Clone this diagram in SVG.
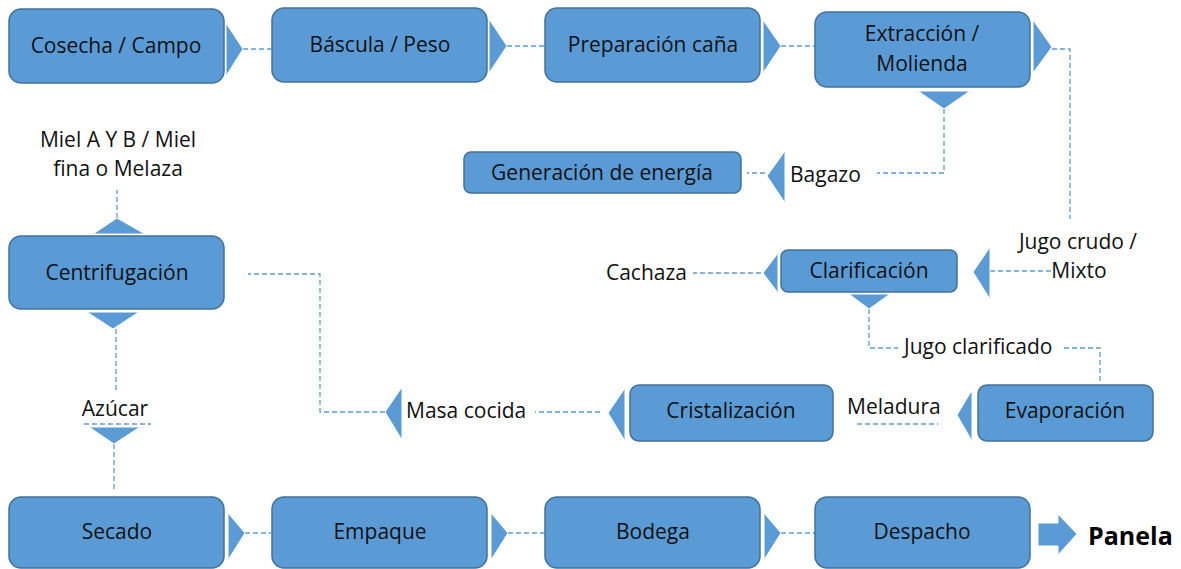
<svg xmlns="http://www.w3.org/2000/svg" width="1181" height="569" viewBox="0 0 1181 569">
<style>
.box{fill:#5b9bd5;stroke:#41719c;stroke-width:1.5}
.tri{fill:#5b9bd5;stroke:#ffffff;stroke-width:1}
.t{font-family:"Open Sans","Liberation Sans",sans-serif;font-size:21px;fill:#111111}
.c{text-anchor:middle}
.e{text-anchor:end}
.con{fill:none;stroke:#5b9bd5;stroke-width:1.3;stroke-dasharray:5 3}
.b{font-family:"Open Sans","Liberation Sans",sans-serif;font-size:25px;font-weight:bold;fill:#000}
</style>
<rect width="1181" height="569" fill="#ffffff"/>
<g id="connectors">
<path class="con" d="M243 49H271"/>
<path class="con" d="M507 46H545"/>
<path class="con" d="M781 46H815"/>
<path class="con" d="M1052 49H1070V219"/>
<path class="con" d="M944 109V173H877"/>
<path class="con" d="M765 173H747"/>
<path class="con" d="M990 271H1052"/>
<path class="con" d="M761 273H693"/>
<path class="con" d="M869 309V348H898"/>
<path class="con" d="M1064 348H1100V384"/>
<path class="con" d="M857 424H938"/>
<path class="con" d="M600 412H535"/>
<path class="con" d="M385 412H320V274H248"/>
<path class="con" d="M117 218V190"/>
<path class="con" d="M116 329V390"/>
<path class="con" d="M84 424H151"/>
<path class="con" d="M114 444V490"/>
<path class="con" d="M245 533H271"/>
<path class="con" d="M508 533H545"/>
<path class="con" d="M781 533H815"/>
</g>
<g id="cosecha">
<rect class="box" x="9" y="9" width="215" height="74" rx="12"/>
<polygon class="tri" points="226,23 243,49 226,76"/>
<text class="t c" x="116" y="53">Cosecha / Campo</text>
</g>
<g id="bascula">
<rect class="box" x="272" y="8" width="215" height="74" rx="12"/>
<polygon class="tri" points="489,19 507,46 489,73"/>
<text class="t c" x="380" y="52">Báscula / Peso</text>
</g>
<g id="preparacion">
<rect class="box" x="545" y="8" width="215" height="74" rx="12"/>
<polygon class="tri" points="763,20 781,46 763,73"/>
<text class="t c" x="653" y="52">Preparación caña</text>
</g>
<g id="extraccion">
<rect class="box" x="815" y="12" width="215" height="75" rx="12"/>
<polygon class="tri" points="1033,20 1052,47 1033,73"/>
<polygon class="tri" points="918,91 970,91 944,109"/>
<text class="t c" x="922" y="41">Extracción /</text>
<text class="t c" x="922" y="71">Molienda</text>
</g>
<g id="generacion">
<rect class="box" x="464" y="152" width="277" height="41" rx="7"/>
<text class="t c" x="602" y="180">Generación de energía</text>
</g>
<g id="bagazo">
<polygon class="tri" points="785,151 767,176 785,203"/>
<text class="t" x="790" y="182">Bagazo</text>
</g>
<g id="miel">
<text class="t c" x="118" y="147">Miel A Y B / Miel</text>
<text class="t c" x="118" y="176">fina o Melaza</text>
</g>
<g id="centrifugacion">
<rect class="box" x="9" y="236" width="215" height="73" rx="12"/>
<polygon class="tri" points="93,234 117,218 145,234"/>
<polygon class="tri" points="87,312 139,312 113,329"/>
<text class="t c" x="117" y="280">Centrifugación</text>
</g>
<g id="azucar">
<text class="t c" x="115" y="416">Azúcar</text>
<polygon class="tri" points="89,427 140,427 114,444"/>
</g>
<g id="jugocrudo">
<polygon class="tri" points="990,247 973,272 990,299"/>
<text class="t c" x="1078" y="249">Jugo crudo /</text>
<text class="t c" x="1079" y="278">Mixto</text>
</g>
<g id="clarificacion">
<rect class="box" x="781" y="250" width="176" height="42" rx="7"/>
<polygon class="tri" points="778,253 763,273 778,293"/>
<polygon class="tri" points="849,294 890,294 869,309"/>
<text class="t c" x="869" y="278">Clarificación</text>
</g>
<g id="cachaza">
<text class="t e" x="687" y="280">Cachaza</text>
</g>
<g id="jugoclarificado">
<text class="t" x="904" y="354">Jugo clarificado</text>
</g>
<g id="evaporacion">
<rect class="box" x="978" y="385" width="175" height="56" rx="9"/>
<polygon class="tri" points="972,390 957,415 972,441"/>
<text class="t c" x="1065" y="418">Evaporación</text>
</g>
<g id="meladura">
<text class="t" x="847" y="414">Meladura</text>
</g>
<g id="cristalizacion">
<rect class="box" x="630" y="385" width="203" height="56" rx="9"/>
<polygon class="tri" points="625,388 608,413 625,441"/>
<text class="t c" x="731" y="418">Cristalización</text>
</g>
<g id="masacocida">
<polygon class="tri" points="402,387 385,412 402,440"/>
<text class="t" x="406" y="418">Masa cocida</text>
</g>
<g id="secado">
<rect class="box" x="9" y="497" width="215" height="71" rx="12"/>
<polygon class="tri" points="228,513 245,533 228,560"/>
<text class="t c" x="117" y="539">Secado</text>
</g>
<g id="empaque">
<rect class="box" x="272" y="497" width="215" height="71" rx="12"/>
<polygon class="tri" points="491,513 508,533 491,560"/>
<text class="t c" x="380" y="539">Empaque</text>
</g>
<g id="bodega">
<rect class="box" x="545" y="497" width="215" height="71" rx="12"/>
<polygon class="tri" points="764,513 781,533 764,560"/>
<text class="t c" x="653" y="539">Bodega</text>
</g>
<g id="despacho">
<rect class="box" x="815" y="497" width="215" height="71" rx="12"/>
<text class="t c" x="922" y="539">Despacho</text>
</g>
<g id="panela">
<polygon class="tri" points="1038,523 1058,523 1058,514 1077,534 1058,555 1058,546 1038,546"/>
<text class="b" x="1088" y="545">Panela</text>
</g>
</svg>
